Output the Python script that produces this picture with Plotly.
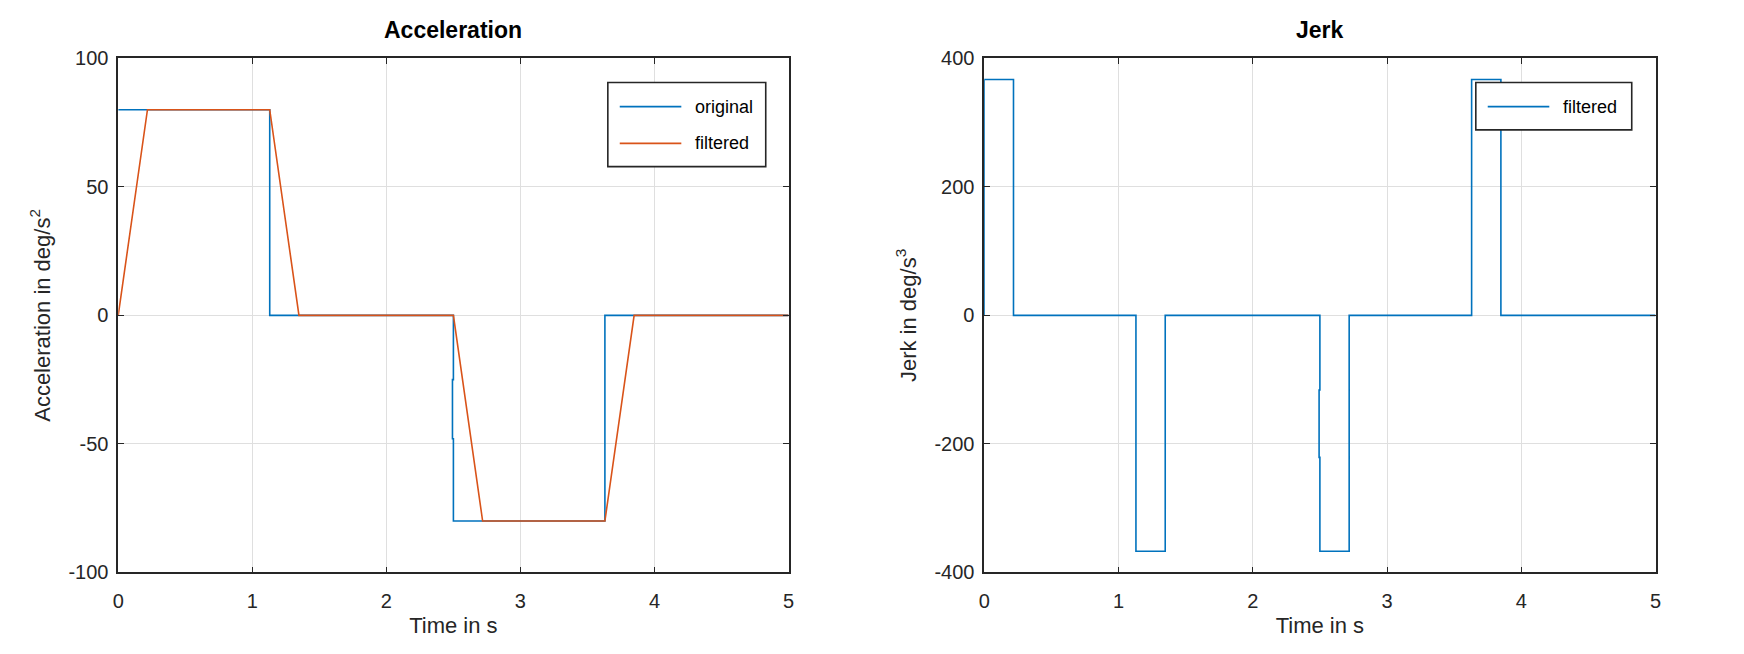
import plotly.graph_objects as go

# ---------------- data ----------------
# Acceleration (deg/s^2)
t_acc_original = [0, 1.13, 1.13, 2.5, 2.5, 2.493, 2.493, 2.5, 2.5, 3.63, 3.63, 5]
acc_original = [80, 80, 0, 0, -25, -25, -48, -48, -80, -80, 0, 0]

t_acc_filtered = [0, 0.218, 1.13, 1.348, 2.5, 2.718, 3.63, 3.848, 5]
acc_filtered = [0, 80, 80, 0, 0, -80, -80, 0, 0]

# Jerk (deg/s^3)
t_jerk = [0, 0, 0.218, 0.218, 1.13, 1.13, 1.348, 1.348, 2.5, 2.5, 2.494, 2.494,
          2.5, 2.5, 2.718, 2.718, 3.63, 3.63, 3.848, 3.848, 5]
jerk_filtered = [0, 367, 367, 0, 0, -367, -367, 0, 0, -116, -116, -221,
                 -221, -367, -367, 0, 0, 367, 367, 0, 0]

x_ticks = [0, 1, 2, 3, 4, 5]
x_tick_text = ["0", "1", "2", "3", "4", "5"]
acc_ticks = [-100, -50, 0, 50, 100]
acc_tick_text = ["-100", "-50", "0", "50", "100"]
jerk_ticks = [-400, -200, 0, 200, 400]
jerk_tick_text = ["-400", "-200", "0", "200", "400"]

# ---------------- style ----------------
BLUE = "#0072BD"
RED = "#D95319"
AX = "#262626"
GRID = "#dfdfdf"
FONT = "Liberation Sans, Arial, Helvetica, sans-serif"
W, H = 1744, 654


def px_x(p):
    return p / W


def px_y(p):
    return 1 - p / H


fig = go.Figure()
fig.add_trace(go.Scatter(x=t_acc_original, y=acc_original, mode="lines",
                         name="original", line=dict(color=BLUE, width=1.6),
                         xaxis="x", yaxis="y"))
fig.add_trace(go.Scatter(x=t_acc_filtered, y=acc_filtered, mode="lines",
                         name="filtered", line=dict(color=RED, width=1.6),
                         xaxis="x", yaxis="y"))
fig.add_trace(go.Scatter(x=t_jerk, y=jerk_filtered, mode="lines",
                         name="filtered", line=dict(color=BLUE, width=1.6),
                         xaxis="x2", yaxis="y2"))

axis_common = dict(showline=True, linecolor=AX, linewidth=1.6, mirror="ticks",
                   ticks="inside", ticklen=6, tickwidth=1, tickcolor=AX,
                   showgrid=True, gridcolor=GRID, gridwidth=1, zeroline=False,
                   tickfont=dict(family=FONT, size=20, color=AX))
x_common = dict(ticklabelstandoff=10, **axis_common)
y_common = dict(ticklabelstandoff=4, **axis_common)

# manual MATLAB-style legend boxes (pixel positions)
legend_boxes = [
    dict(box=(606, 74, 765, 161),
         items=[("original", BLUE, 99), ("filtered", RED, 137)],
         line_x=(618, 680), text_x=692),
    dict(box=(1480, 74, 1637, 123),
         items=[("filtered", BLUE, 99)],
         line_x=(1492, 1554), text_x=1566),
]

shapes = []
annotations = [
    dict(text="<b>Acceleration</b>", x=(px_x(113) + px_x(788)) / 2, y=px_y(20),
         xref="paper", yref="paper", xanchor="center", yanchor="middle",
         showarrow=False, font=dict(family=FONT, size=23, color="#000000")),
    dict(text="<b>Jerk</b>", x=(px_x(985) + px_x(1661)) / 2, y=px_y(20),
         xref="paper", yref="paper", xanchor="center", yanchor="middle",
         showarrow=False, font=dict(family=FONT, size=23, color="#000000")),
]
for lb in legend_boxes:
    x0, y0, x1, y1 = lb["box"]
    shapes.append(dict(type="rect", xref="paper", yref="paper",
                       x0=px_x(x0), x1=px_x(x1), y0=px_y(y1), y1=px_y(y0),
                       fillcolor="white", line=dict(color=AX, width=1.6),
                       layer="above"))
    for name, color, yy in lb["items"]:
        shapes.append(dict(type="line", xref="paper", yref="paper",
                           x0=px_x(lb["line_x"][0]), x1=px_x(lb["line_x"][1]),
                           y0=px_y(yy), y1=px_y(yy),
                           line=dict(color=color, width=1.6), layer="above"))
        annotations.append(dict(text=name, x=px_x(lb["text_x"]), y=px_y(yy),
                                xref="paper", yref="paper", xanchor="left",
                                yanchor="middle", showarrow=False,
                                font=dict(family=FONT, size=18, color="#000000")))

fig.update_layout(
    width=W, height=H,
    margin=dict(l=0, r=0, t=0, b=0),
    paper_bgcolor="white", plot_bgcolor="white",
    font=dict(family=FONT, color=AX),
    showlegend=False,
    xaxis=dict(domain=[px_x(113), px_x(788)], anchor="y", range=[0, 5],
               tickvals=x_ticks, ticktext=x_tick_text,
               title=dict(text="Time in s", font=dict(size=22, color=AX), standoff=6),
               **x_common),
    yaxis=dict(domain=[px_y(581), px_y(49)], anchor="x", range=[-100, 100],
               tickvals=acc_ticks, ticktext=acc_tick_text,
               title=dict(text="Acceleration in deg/s<sup>2</sup>", font=dict(size=22, color=AX), standoff=12),
               **y_common),
    xaxis2=dict(domain=[px_x(985), px_x(1661)], anchor="y2", range=[0, 5],
                tickvals=x_ticks, ticktext=x_tick_text,
                title=dict(text="Time in s", font=dict(size=22, color=AX), standoff=6),
                **x_common),
    yaxis2=dict(domain=[px_y(581), px_y(49)], anchor="x2", range=[-400, 400],
                tickvals=jerk_ticks, ticktext=jerk_tick_text,
                title=dict(text="Jerk in deg/s<sup>3</sup>", font=dict(size=22, color=AX), standoff=12),
                **y_common),
    shapes=shapes,
    annotations=annotations,
)

fig.write_html("out.html",
               config={"displayModeBar": False},
               post_script="document.body.style.margin='0';document.body.style.overflow='hidden';")
